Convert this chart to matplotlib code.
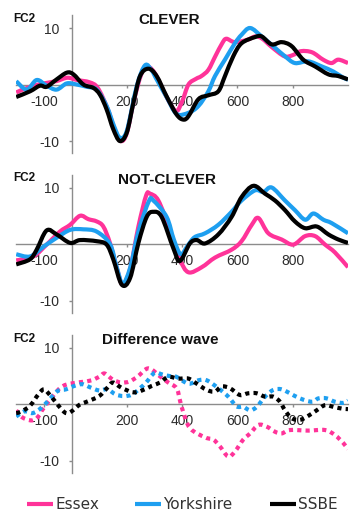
import matplotlib
matplotlib.use("Agg")
import numpy as np
import matplotlib.pyplot as plt
from matplotlib.lines import Line2D
from matplotlib.path import Path
from matplotlib.patches import PathPatch

plt.rcParams["font.family"] = ["Liberation Sans", "DejaVu Sans"]

ESSEX = "#FF3399"
YORKS = "#1E9FF0"
SSBE = "#000000"

# ---------------- CLEVER ----------------
clever_essex_t = [-200, -150, -100, -55, -15, 20, 65, 95, 130, 155, 178, 200, 225, 250, 270, 300,
                  345, 378, 400, 423, 450, 470, 495, 520, 545, 560, 590, 635, 665, 690, 725, 770,
                  800, 830, 870, 910, 940, 965, 1000]
clever_essex_v = [-1.4, -0.4, 0.2, 0.6, 1.2, 0.8, 0.4, -0.6, -4.2, -7.8, -10.0, -8.6, -3.0, 1.5, 3.2, 2.1,
                  -2.3, -4.7, -3.0, 0.0, 1.0, 1.5, 2.6, 5.0, 7.3, 8.1, 7.5, 7.9, 8.5, 8.1, 6.6, 5.0,
                  5.2, 5.9, 5.7, 4.4, 3.8, 4.4, 3.8]

clever_yorks_t = [-200, -162, -126, -90, -54, -17, 19, 55, 91, 127, 155, 175, 200, 236, 266, 290, 308,
                  345, 380, 423, 459, 495, 519, 555, 591, 615, 646, 688, 736, 772, 808, 856, 905,
                  947, 983, 1000]
clever_yorks_v = [0.6, -0.9, 0.8, -0.2, -0.9, 0.2, 0.0, -0.4, -0.9, -3.8, -7.5, -9.4, -8.2, -0.3, 3.4, 2.5, 0.9,
                  -2.3, -5.2, -5.0, -3.8, -1.2, 1.5, 4.4, 7.3, 8.8, 10.0, 8.5, 6.5, 5.0, 3.8, 4.1, 3.2,
                  2.3, 1.2, 0.9]

clever_ssbe_t = [-200, -150, -114, -90, -54, -17, 7, 43, 79, 103, 127, 151, 175, 200, 224, 248, 278,
                 308, 344, 380, 404, 423, 459, 495, 531, 555, 585, 615, 664, 688, 724, 760, 796,
                 838, 881, 929, 965, 1000]
clever_ssbe_v = [-2.2, -1.2, -0.2, -0.4, 0.9, 2.1, 1.8, 0.0, -0.6, -1.8, -4.4, -7.9, -10.0, -8.5, -3.2, 1.5, 2.8,
                 1.5, -2.1, -5.3, -6.2, -5.6, -2.6, -1.9, -1.2, 1.5, 5.0, 7.3, 8.4, 8.5, 7.1, 7.5, 6.8,
                 4.4, 3.2, 1.8, 1.5, 0.9]

# ---------------- NOT-CLEVER ----------------
notclever_essex_t = [-200, -138, -90, -42, -5, 31, 61, 91, 115, 139, 163, 185, 212, 242, 270, 284, 314,
                     356, 392, 423, 471, 519, 579, 615, 652, 676, 712, 760, 802, 845, 881, 917, 953, 1000]
notclever_essex_v = [-2.9, -2.2, -0.1, 2.2, 3.4, 5.0, 4.4, 4.0, 3.1, 0.2, -4.1, -7.2, -4.4, 3.1, 8.6, 8.9, 7.7,
                     2.5, -2.7, -5.0, -4.1, -2.4, -1.0, 0.5, 3.4, 4.6, 1.9, 0.8, -0.1, 1.4, 1.4, -0.1, -1.5, -4.1]

notclever_yorks_t = [-200, -150, -102, -54, -5, 43, 91, 139, 163, 185, 212, 242, 280, 296, 344, 370, 395,
                     420, 445, 483, 531, 579, 615, 664, 694, 724, 772, 808, 845, 875, 911, 941, 1000]
notclever_yorks_v = [-1.8, -2.2, -0.5, 1.1, 2.5, 2.6, 2.2, 0.0, -4.0, -7.0, -4.2, 2.2, 7.6, 7.7, 4.8, 0.8, -1.8,
                     -0.3, 1.2, 1.9, 3.4, 5.7, 7.7, 9.5, 9.2, 10.0, 7.7, 6.0, 4.3, 5.4, 4.3, 3.7, 1.9]

notclever_ssbe_t = [-200, -150, -126, -90, -54, -5, 31, 91, 127, 151, 182, 212, 242, 272, 296, 326, 368,
                    392, 428, 453, 483, 531, 579, 615, 658, 700, 736, 772, 808, 845, 887, 929, 965, 1000]
notclever_ssbe_v = [-3.6, -2.7, -1.0, 2.4, 1.7, 0.2, 0.7, 0.5, -0.1, -2.7, -7.2, -6.0, 0.2, 4.8, 5.7, 4.8, -0.7,
                    -3.0, 0.1, 0.7, 0.1, 1.7, 4.8, 8.3, 10.3, 8.9, 7.7, 6.0, 4.0, 2.8, 3.1, 1.7, 0.8, 0.2]

# ---------------- Difference wave ----------------
diff_essex_t = [-200, -180, -144, -120, -102, -54, -30, -5, 37, 73, 103, 120, 150, 180, 210, 240, 270, 290,
                320, 350, 380, 392, 404, 429, 483, 513, 537, 567, 591, 621, 646, 676, 706, 736, 760,
                790, 856, 917, 953, 983, 1000]
diff_essex_v = [-1.1, -2.3, -2.9, -2.2, -0.8, 2.2, 3.2, 3.6, 3.9, 4.2, 4.9, 5.4, 4.3, 3.8, 4.0, 4.9, 6.2, 6.1,
                4.9, 3.8, 2.8, 0.7, -1.4, -4.3, -5.9, -6.3, -7.5, -9.3, -8.4, -6.3, -5.2, -3.7, -4.0, -4.9, -5.2,
                -4.6, -4.7, -4.6, -5.5, -6.9, -8.0]

diff_yorks_t = [-200, -170, -140, -110, -80, -50, -20, 10, 40, 70, 100, 130, 160, 190, 220, 250, 270, 300,
                330, 360, 380, 423, 459, 489, 531, 567, 597, 621, 646, 670, 700, 730, 760, 790, 826,
                869, 893, 923, 953, 983, 1000]
diff_yorks_v = [-2.2, -1.3, -1.6, -0.7, 0.8, 2.3, 2.6, 3.2, 3.5, 2.9, 2.4, 2.6, 1.7, 1.4, 1.7, 2.9, 3.8, 5.5,
                5.2, 4.9, 4.8, 3.6, 4.2, 4.2, 2.8, 1.3, -0.4, -0.5, -1.1, -0.5, 1.3, 2.5, 2.6, 1.9, 1.0,
                0.4, 1.0, 1.0, 0.4, 0.2, 0.6]

diff_ssbe_t = [-200, -180, -150, -120, -100, -80, -60, -40, -20, 0, 30, 60, 100, 130, 150, 180, 220, 250,
               290, 320, 350, 386, 423, 453, 489, 519, 543, 573, 609, 639, 670, 700, 730, 754, 772,
               796, 826, 856, 887, 917, 947, 977, 1000]
diff_ssbe_v = [-1.6, -1.3, -0.3, 1.7, 2.6, 1.7, 0.5, -0.7, -1.6, -1.3, -0.1, 0.5, 1.4, 2.9, 3.8, 2.9, 2.1, 2.3,
               3.2, 3.8, 4.8, 4.5, 4.5, 3.6, 2.5, 2.2, 3.1, 2.8, 1.6, 1.9, 1.9, 1.3, 1.3, 0.4, -1.1,
               -2.5, -2.8, -2.1, -1.1, -0.2, -0.5, -0.8, -0.9]

xtick_pos = [-100, 200, 400, 600, 800]
xtick_labels = ["-100", "200", "400", "600", "800"]
ytick_pos = [-10, 10]
ytick_labels = ["-10", "10"]


def smooth_path(t, v):
    # smoothed line like the spreadsheet option: bezier segments through the points
    p = np.column_stack([t, v]).astype(float)
    ext = np.vstack([p[0], p, p[-1]])
    verts = [p[0]]
    codes = [Path.MOVETO]
    for i in range(len(p) - 1):
        p0, p1, p2, p3 = ext[i], ext[i + 1], ext[i + 2], ext[i + 3]
        verts += [p1 + (p2 - p0) / 6, p2 - (p3 - p1) / 6, p2]
        codes += [Path.CURVE4] * 3
    return Path(verts, codes)


panels = [
    ("CLEVER", 169, 24, "-", [(clever_essex_t, clever_essex_v, ESSEX),
                              (clever_yorks_t, clever_yorks_v, YORKS),
                              (clever_ssbe_t, clever_ssbe_v, SSBE)]),
    ("NOT-CLEVER", 167, 183.5, "-", [(notclever_essex_t, notclever_essex_v, ESSEX),
                                     (notclever_yorks_t, notclever_yorks_v, YORKS),
                                     (notclever_ssbe_t, notclever_ssbe_v, SSBE)]),
    ("Difference wave", 160, 344, (0, (1, 1)), [(diff_essex_t, diff_essex_v, ESSEX),
                                                (diff_yorks_t, diff_yorks_v, YORKS),
                                                (diff_ssbe_t, diff_ssbe_v, SSBE)]),
]

W, H = 354, 511
fig = plt.figure(figsize=(W / 100, H / 100), dpi=100)

tops = [15, 174.5, 334.5]
h = 138.5
fc2_base = [22, 181, 342]

for (title, tx, ty, ls, series), top, fb in zip(panels, tops, fc2_base):
    ax = fig.add_axes([16.2 / W, 1 - (top + h) / H, (348 - 16.2) / W, h / H])
    ax.set_xlim(-200, 1000)
    ax.set_ylim(-12.2, 12.3)
    ax.patch.set_alpha(0)
    for s in ["top", "right"]:
        ax.spines[s].set_visible(False)
    ax.spines["left"].set_position(("data", 0))
    ax.spines["bottom"].set_position(("data", 0))
    for s in ["left", "bottom"]:
        ax.spines[s].set_color("#8c8c8c")
        ax.spines[s].set_linewidth(1.0)
    ax.set_xticks(xtick_pos, xtick_labels)
    ax.set_yticks(ytick_pos, ytick_labels)
    ax.tick_params(axis="both", direction="out", length=2.5, width=1, color="#8c8c8c",
                   labelsize=10, labelcolor="#2b2b2b")
    ax.tick_params(axis="x", pad=5)
    ax.tick_params(axis="y", pad=6)

    for t, v, c in series:
        patch = PathPatch(smooth_path(t, v), facecolor="none", edgecolor=c, lw=3,
                          linestyle=ls, capstyle="butt", joinstyle="round", zorder=3)
        ax.add_patch(patch)

    fig.text(tx / W, 1 - ty / H, title, ha="center", va="baseline",
             fontsize=11, fontweight="bold", color="#111111")
    fig.text(13 / W, 1 - fb / H, "FC2", ha="left", va="baseline",
             fontsize=8.5, fontweight="bold", color="#111111")

# legend
legend_items = [("Essex", ESSEX, 27), ("Yorkshire", YORKS, 135), ("SSBE", SSBE, 270)]
for name, c, x0 in legend_items:
    fig.add_artist(Line2D([x0 / W, (x0 + 26) / W], [1 - 504 / H, 1 - 504 / H],
                          color=c, lw=3, solid_capstyle="butt"))
    fig.text((x0 + 28) / W, 1 - 509.3 / H, name, ha="left", va="baseline",
             fontsize=11, family=["DejaVu Sans"], color="#333333")

fig.savefig("out.png", dpi=100)
